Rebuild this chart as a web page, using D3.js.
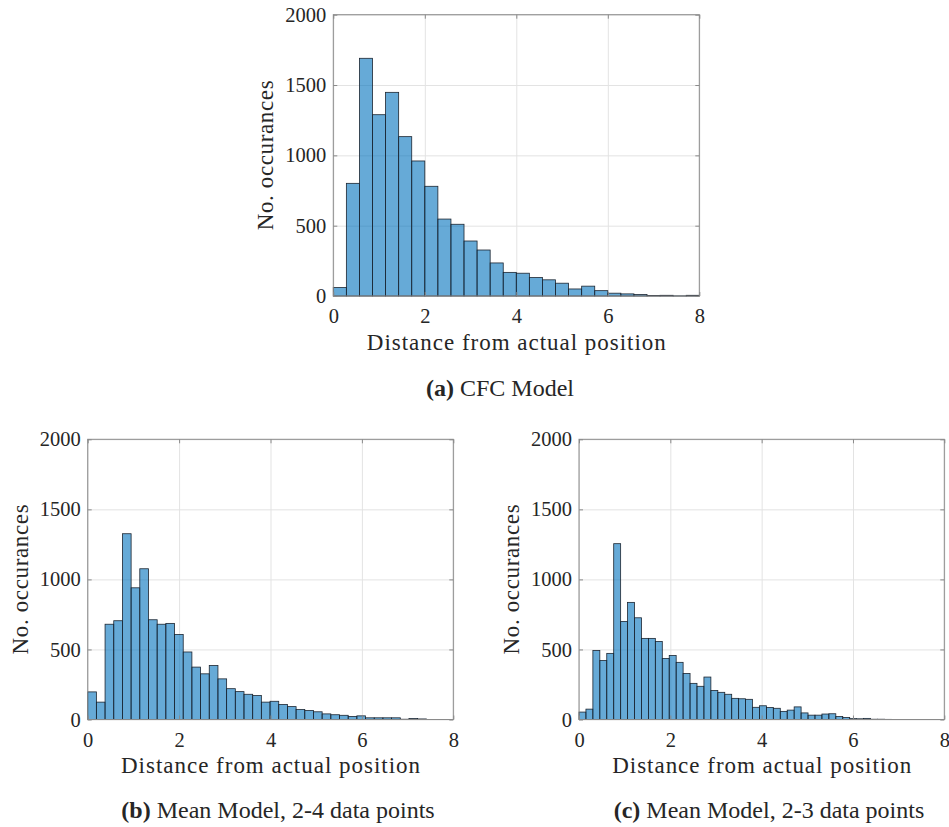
<!DOCTYPE html>
<html>
<head>
<meta charset="utf-8">
<script src="https://cdn.jsdelivr.net/npm/d3@7/dist/d3.min.js"></script>
<style>
  html, body { margin: 0; padding: 0; background: #ffffff; }
  svg { display: block; }
  text { font-family: "Liberation Serif", "Times New Roman", serif; fill: #262626; }
</style>
</head>
<body>
<svg id="fig" width="949" height="827"></svg>
<script>
// Histogram counts per bin (bins start at 0)
const countsCFC = [60, 801, 1690, 1289, 1448, 1133, 960, 780, 547, 510, 391, 327, 235, 168,
  162, 131, 115, 91, 50, 70, 38, 20, 15, 10, 3, 5, 1, 5];
const binWidthCFC = 8 / 28;

const countsMean24 = [197, 124, 680, 705, 1326, 940, 1076, 712, 680, 686, 607, 482, 374, 326,
  385, 290, 220, 199, 180, 171, 124, 130, 107, 92, 71, 64, 55, 40, 34, 30, 22, 26, 12, 12,
  12, 12, 2, 7, 4];
const binWidthMean24 = 0.19;

const countsMean23 = [53, 74, 493, 421, 472, 1255, 700, 836, 726, 579, 579, 557, 436, 457,
  408, 329, 258, 237, 303, 207, 194, 180, 151, 148, 144, 87, 98, 86, 80, 58, 67, 90, 47, 31,
  31, 39, 41, 21, 15, 6, 5, 8, 2, 2, 1];
const binWidthMean23 = 0.152;

const xTicks = [0, 2, 4, 6, 8];
const yTicks = [0, 500, 1000, 1500, 2000];
const xDomain = [0, 8];
const yDomain = [0, 2000];

const xLabel = "Distance from actual position";
const yLabel = "No. occurances";

const svg = d3.select("#fig");
const fmt = d3.format("d");

function drawPanel(cfg) {
  const { left, right, top, bottom, counts, binWidth } = cfg;
  const w = right - left, h = bottom - top;
  const x = d3.scaleLinear().domain(xDomain).range([left, right]);
  const y = d3.scaleLinear().domain(yDomain).range([bottom, top]);
  const g = svg.append("g");

  // grid lines
  const grid = g.append("g").attr("class", "grid");
  grid.append("g").attr("transform", `translate(0,${bottom})`)
    .call(d3.axisBottom(x).tickValues(xTicks).tickSize(-h).tickFormat(""));
  grid.append("g").attr("transform", `translate(${left},0)`)
    .call(d3.axisLeft(y).tickValues(yTicks).tickSize(-w).tickFormat(""));
  grid.selectAll(".domain").remove();
  grid.selectAll("line").attr("stroke", "#e3e3e3").attr("stroke-width", 1);

  // bars
  const bins = counts.map((c, i) => ({ x0: i * binWidth, x1: (i + 1) * binWidth, n: c }));
  g.append("g").selectAll("rect").data(bins).join("rect")
    .attr("x", d => x(d.x0))
    .attr("width", d => x(d.x1) - x(d.x0))
    .attr("y", d => y(d.n))
    .attr("height", d => y(0) - y(d.n))
    .attr("fill", "#0072BD")
    .attr("fill-opacity", 0.6)
    .attr("stroke", "#1c2530")
    .attr("stroke-width", 0.8);

  // axes with inward ticks on all sides
  const axColor = "#8a8a8a";
  const ax = g.append("g");
  ax.append("g").attr("transform", `translate(0,${bottom})`)
    .call(d3.axisBottom(x).tickValues(xTicks).tickFormat(fmt)
      .tickSizeInner(-4).tickSizeOuter(0).tickPadding(12.5));
  ax.append("g").attr("transform", `translate(${left},0)`)
    .call(d3.axisLeft(y).tickValues(yTicks).tickFormat(fmt)
      .tickSizeInner(-4).tickSizeOuter(0).tickPadding(7));
  ax.append("g").attr("transform", `translate(0,${top})`)
    .call(d3.axisTop(x).tickValues(xTicks).tickSizeInner(-4).tickSizeOuter(0).tickFormat(""));
  ax.append("g").attr("transform", `translate(${right},0)`)
    .call(d3.axisRight(y).tickValues(yTicks).tickSizeInner(-4).tickSizeOuter(0).tickFormat(""));
  ax.selectAll(".domain").remove();
  ax.selectAll("line").attr("stroke", axColor);
  ax.selectAll("text").attr("font-size", 20.5).attr("fill", "#262626");

  g.append("rect").attr("x", left).attr("y", top).attr("width", w).attr("height", h)
    .attr("fill", "none").attr("stroke", axColor).attr("stroke-width", 1);

  // axis titles
  g.append("text")
    .attr("x", (left + right) / 2).attr("y", bottom + 53.5)
    .attr("text-anchor", "middle").attr("font-size", 23)
    .attr("textLength", 299).attr("lengthAdjust", "spacing")
    .text(xLabel);
  g.append("text")
    .attr("transform", `translate(${left - 60},${(top + bottom) / 2}) rotate(-90)`)
    .attr("text-anchor", "middle").attr("font-size", 23)
    .attr("textLength", 150).attr("lengthAdjust", "spacing")
    .text(yLabel);

  // sub-caption
  const cap = g.append("text")
    .attr("x", cfg.capX).attr("y", cfg.capY)
    .attr("text-anchor", "middle").attr("font-size", 24).attr("fill", "#1a1a1a");
  cap.append("tspan").attr("font-weight", "bold").text(cfg.tag);
  cap.append("tspan").text(" " + cfg.caption);
}

drawPanel({ left: 333.3, right: 699.3, top: 14.7, bottom: 296,
  counts: countsCFC, binWidth: binWidthCFC,
  tag: "(a)", caption: "CFC Model", capX: 500, capY: 396 });

drawPanel({ left: 87.7, right: 453.3, top: 439.3, bottom: 719.5,
  counts: countsMean24, binWidth: binWidthMean24,
  tag: "(b)", caption: "Mean Model, 2-4 data points", capX: 278, capY: 818 });

drawPanel({ left: 579, right: 944.3, top: 439.3, bottom: 719.5,
  counts: countsMean23, binWidth: binWidthMean23,
  tag: "(c)", caption: "Mean Model, 2-3 data points", capX: 769, capY: 818 });
</script>
</body>
</html>
